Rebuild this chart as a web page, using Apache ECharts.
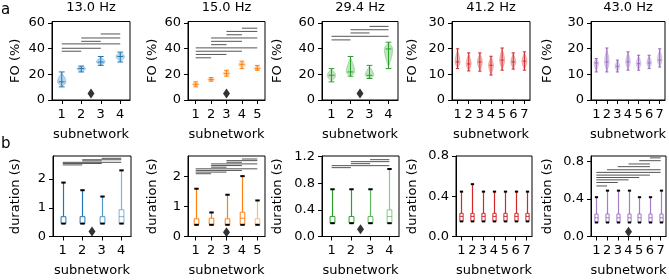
<!DOCTYPE html>
<html><head><meta charset="utf-8">
<script src="https://cdn.jsdelivr.net/npm/echarts@6/dist/echarts.min.js"></script>
<style>html,body{margin:0;padding:0;background:#fff}#c{width:669px;height:280px}</style>
</head><body><div id="c"></div>
<script>
// ---------------- data ----------------
const freqTitles = ['13.0 Hz', '15.0 Hz', '29.4 Hz', '41.2 Hz', '43.0 Hz'];
const subnetworkCounts = [4, 5, 4, 7, 7];

// row a: fractional occupancy (%) violins
const foTicks = [[0, 20, 40, 60], [0, 20, 40, 60], [0, 20, 40, 60], [0, 10, 20, 30], [0, 10, 20, 30]];
const foAxisMax = [61, 61, 61, 30.5, 30.5];
const foMin = [
  [10.2, 21.8, 26.9, 29.5],
  [10.2, 14.6, 18.5, 24.4, 23.1],
  [14.1, 18.5, 16.7, 24.4],
  [12.2, 11.3, 11.2, 9.7, 11.6, 12.0, 11.6],
  [10.9, 10.9, 10.9, 11.6, 11.6, 12.2, 12.8]
];
const foMedian = [
  [14.1, 24.4, 29.5, 33.8],
  [12.1, 15.9, 20.5, 27.7, 24.4],
  [19.2, 21.8, 19.2, 39.7],
  [14.8, 14.0, 14.8, 13.5, 15.5, 14.8, 15.1],
  [14.4, 14.8, 13.1, 14.8, 14.1, 14.4, 15.5]
];
const foMax = [
  [21.8, 26.4, 33.8, 37.2],
  [14.1, 17.4, 23.1, 30.2, 26.9],
  [24.4, 33.8, 26.9, 44.9],
  [19.9, 18.3, 18.3, 17.0, 20.2, 18.3, 18.7],
  [16.1, 20.2, 15.5, 18.7, 17.4, 17.4, 19.9]
];
const foSigPairs = [
  [[1, 2, 37.9], [1, 3, 40.2], [1, 4, 43.6], [2, 3, 45.6], [2, 4, 48.2], [3, 4, 51.3]],
  [[1, 2, 32.8], [1, 3, 35.4], [1, 4, 37.9], [1, 5, 40.5], [2, 3, 43.0], [2, 4, 45.6], [2, 5, 48.2], [3, 4, 50.7], [3, 5, 53.3], [4, 5, 55.8]],
  [[1, 2, 46.7], [1, 4, 49.5], [2, 3, 52.1], [2, 4, 54.6], [3, 4, 57.2]],
  [],
  []
];
const foMarker = [[2.5, 5], [3, 5], [2.5, 5], null, null];

// row b: state duration (s) box plots
const durTicks = [[0, 1, 2], [0, 1, 2], [0, 0.4, 0.8, 1.2], [0, 0.4, 0.8], [0, 0.4, 0.8]];
const durAxisMax = [2.8, 2.68, 1.21, 0.8, 0.86];
const durMin = [
  [0.45, 0.45, 0.45, 0.45],
  [0.39, 0.39, 0.39, 0.39, 0.39],
  [0.2, 0.2, 0.2, 0.2],
  [0.15, 0.15, 0.15, 0.15, 0.15, 0.15, 0.15],
  [0.15, 0.15, 0.15, 0.15, 0.15, 0.15, 0.15]
];
const durQ1 = [
  [0.45, 0.45, 0.45, 0.45],
  [0.39, 0.39, 0.39, 0.39, 0.39],
  [0.2, 0.2, 0.2, 0.2],
  [0.15, 0.15, 0.15, 0.15, 0.15, 0.15, 0.15],
  [0.15, 0.15, 0.15, 0.15, 0.15, 0.15, 0.15]
];
const durMedian = [
  [0.45, 0.45, 0.45, 0.69],
  [0.39, 0.39, 0.39, 0.61, 0.39],
  [0.2, 0.2, 0.2, 0.3],
  [0.2, 0.2, 0.2, 0.2, 0.2, 0.2, 0.2],
  [0.2, 0.2, 0.2, 0.2, 0.2, 0.2, 0.2]
];
const durQ3 = [
  [0.69, 0.69, 0.69, 0.93],
  [0.59, 0.61, 0.59, 0.81, 0.59],
  [0.3, 0.3, 0.3, 0.4],
  [0.23, 0.23, 0.23, 0.23, 0.23, 0.23, 0.23],
  [0.24, 0.24, 0.24, 0.24, 0.24, 0.24, 0.24]
];
const durMax = [
  [1.875, 1.61, 1.39, 2.3],
  [1.59, 0.8, 1.39, 2.01, 1.2],
  [0.71, 0.71, 0.71, 1.015],
  [0.446, 0.52, 0.446, 0.446, 0.446, 0.446, 0.446],
  [0.42, 0.49, 0.49, 0.49, 0.42, 0.42, 0.49]
];
const durSigPairs = [
  [[1, 2, 2.49], [1, 3, 2.54], [1, 4, 2.58], [2, 3, 2.63], [2, 4, 2.67], [3, 4, 2.72]],
  [[1, 2, 2.09], [1, 3, 2.144], [1, 4, 2.199], [1, 5, 2.253], [2, 3, 2.308], [2, 4, 2.362], [2, 5, 2.417], [3, 4, 2.471], [3, 5, 2.526], [4, 5, 2.58]],
  [[1, 2, 1.035], [1, 4, 1.065], [2, 3, 1.095], [2, 4, 1.125], [3, 4, 1.155]],
  [],
  [[1, 2, 0.54], [1, 3, 0.577], [1, 4, 0.605], [1, 5, 0.63], [1, 6, 0.656], [1, 7, 0.685], [2, 7, 0.713], [3, 6, 0.746], [4, 6, 0.775], [5, 7, 0.81], [6, 7, 0.84]]
];
const durMarker = [[2.5, 0.17], [3, 0.14], [2.5, 0.11], null, [4, 0.05]];

// ---------------- style / layout ----------------
const FONT = 'DejaVu Sans';
const colors = ['#1f77b4', '#ff7f0e', '#2ca02c', '#d62728', '#9467bd'];
const boxOpacity = [[1, 1, 0.75, 0.55], [1, 1, 1, 1, 0.55], [1, 1, 0.75, 0.55], [1, 1, 1, 1, 1, 1, 1], [0.85, 0.85, 0.85, 0.85, 0.85, 0.85, 0.85]];
const topLefts = [52, 188, 322, 452, 591], topWidths = [78, 77, 76, 78, 74];
const botLefts = [53, 188, 322, 456, 591], botWidths = [78, 77, 77, 76, 75];
const topTop = 21.5, topH = 78.5, botTop = 156, botH = 80.5;
const nameCenters = [15, 152, 277, 412, 547];

function hexA(hex, a) {
  const r = parseInt(hex.slice(1, 3), 16), g = parseInt(hex.slice(3, 5), 16), b = parseInt(hex.slice(5, 7), 16);
  return 'rgba(' + r + ',' + g + ',' + b + ',' + a + ')';
}

const grid = [], xAxis = [], yAxis = [], series = [], graphic = [];

function makeAxes(g, n, left, width, top, height, ticks, ymax, yname, fmt, center) {
  grid[g] = {left: left, top: top, width: width, height: height, show: true, borderColor: '#000', borderWidth: 1, backgroundColor: 'transparent'};
  const xt = [];
  for (let i = 1; i <= n; i++) xt.push(i);
  const txt = {fontSize: 13, color: '#000', fontFamily: FONT};
  xAxis[g] = {
    gridIndex: g, type: 'value', min: 0.5, max: n + 0.5,
    axisLine: {show: true, onZero: false, lineStyle: {color: '#000', width: 1}},
    axisTick: {show: true, length: 4, customValues: xt, lineStyle: {color: '#000', width: 1}},
    axisLabel: Object.assign({show: true, customValues: xt, margin: 8}, txt),
    splitLine: {show: false},
    name: 'subnetwork', nameLocation: 'middle', nameGap: 28, nameTextStyle: txt
  };
  yAxis[g] = {
    gridIndex: g, type: 'value', min: 0, max: ymax,
    axisLine: {show: true, onZero: false, lineStyle: {color: '#000', width: 1}},
    axisTick: {show: true, length: 4, customValues: ticks, lineStyle: {color: '#000', width: 1}},
    axisLabel: Object.assign({show: true, customValues: ticks, margin: 7, formatter: fmt}, txt),
    splitLine: {show: false},
    name: yname, nameLocation: 'middle', nameRotate: 90, nameGap: left - center - 7, nameTextStyle: txt
  };
}

function sigSeries(g, pairs) {
  series.push({
    type: 'custom', xAxisIndex: g, yAxisIndex: g, silent: true, clip: false,
    data: pairs,
    renderItem: function (params, api) {
      const a = api.coord([api.value(0), api.value(2)]);
      const b = api.coord([api.value(1), api.value(2)]);
      return {type: 'line', shape: {x1: a[0], y1: a[1], x2: b[0], y2: b[1]}, style: {stroke: '#555', lineWidth: 1}};
    }
  });
}

function markerSeries(g, m) {
  if (!m) return;
  series.push({type: 'scatter', xAxisIndex: g, yAxisIndex: g, silent: true, data: [m],
    symbol: 'diamond', symbolSize: [7, 10], itemStyle: {color: '#000'}});
}

for (let p = 0; p < 5; p++) {
  const n = subnetworkCounts[p];
  const color = colors[p];
  // ---- row a ----
  const ga = p;
  makeAxes(ga, n, topLefts[p], topWidths[p], topTop, topH, foTicks[p], foAxisMax[p], 'FO (%)', v => String(v), nameCenters[p]);
  const vData = foMin[p].map((v, i) => [i + 1, foMin[p][i], foMedian[p][i], foMax[p][i]]);
  series.push({
    type: 'custom', xAxisIndex: ga, yAxisIndex: ga, silent: true, clip: false, data: vData,
    renderItem: function (params, api) {
      const x = api.value(0), lo = api.value(1), md = api.value(2), hi = api.value(3);
      const ux = api.size([1, 0])[0];
      const W = 0.22 * ux, N = 30;
      const L = [], R = [];
      for (let k = 0; k <= N; k++) {
        const y = lo + (hi - lo) * k / N;
        let u = y < md ? (md - y) / (md - lo) : (hi > md ? (y - md) / (hi - md) : 0);
        const w = W * Math.pow(Math.max(0, 1 - u * u), 1.6);
        const c = api.coord([x, y]);
        L.push([c[0] - w, c[1]]); R.push([c[0] + w, c[1]]);
      }
      const poly = L.concat(R.reverse());
      const cLo = api.coord([x, lo]), cHi = api.coord([x, hi]), cMd = api.coord([x, md]);
      const cw = 0.15 * ux;
      const ls = {stroke: color, lineWidth: 1};
      return {type: 'group', children: [
        {type: 'polygon', shape: {points: poly, smooth: 0}, style: {fill: hexA(color, 0.3), stroke: hexA(color, 0.35), lineWidth: 0.8}},
        {type: 'line', shape: {x1: cLo[0], y1: cLo[1], x2: cHi[0], y2: cHi[1]}, style: ls},
        {type: 'line', shape: {x1: cLo[0] - cw, y1: cLo[1], x2: cLo[0] + cw, y2: cLo[1]}, style: ls},
        {type: 'line', shape: {x1: cHi[0] - cw, y1: cHi[1], x2: cHi[0] + cw, y2: cHi[1]}, style: ls},
        {type: 'line', shape: {x1: cMd[0] - cw, y1: cMd[1], x2: cMd[0] + cw, y2: cMd[1]}, style: ls}
      ]};
    }
  });
  sigSeries(ga, foSigPairs[p]);
  markerSeries(ga, foMarker[p]);

  // ---- row b ----
  const gb = p + 5;
  const fmtB = (p < 2) ? (v => String(v)) : (v => v.toFixed(1));
  makeAxes(gb, n, botLefts[p], botWidths[p], botTop, botH, durTicks[p], durAxisMax[p], 'duration (s)', fmtB, nameCenters[p]);
  const bData = durMin[p].map((v, i) => [i + 1, durMin[p][i], durQ1[p][i], durMedian[p][i], durQ3[p][i], durMax[p][i], boxOpacity[p][i]]);
  series.push({
    type: 'custom', xAxisIndex: gb, yAxisIndex: gb, silent: true, clip: false, data: bData,
    renderItem: function (params, api) {
      const x = api.value(0);
      const cMin = api.coord([x, api.value(1)]), cQ1 = api.coord([x, api.value(2)]);
      const cMd = api.coord([x, api.value(3)]), cQ3 = api.coord([x, api.value(4)]);
      const cMax = api.coord([x, api.value(5)]);
      const op = api.value(6);
      const col = hexA(color, op);
      const ux = api.size([1, 0])[0];
      const hw = Math.min(2.4, 0.15 * ux), capw = Math.min(2.2, 0.15 * ux);
      const cx = Math.round(cMin[0]) + 0.5;
      return {type: 'group', children: [
        {type: 'line', shape: {x1: cx, y1: cQ3[1], x2: cx, y2: cMax[1]}, style: {stroke: col, lineWidth: 1.2}},
        {type: 'rect', shape: {x: cx - hw, y: cQ3[1], width: 2 * hw, height: cQ1[1] - cQ3[1]}, style: {fill: '#fff', stroke: col, lineWidth: 1}},
        {type: 'line', shape: {x1: cx - hw, y1: cMd[1], x2: cx + hw, y2: cMd[1]}, style: {stroke: col, lineWidth: 1}},
        {type: 'line', shape: {x1: cx - capw, y1: cMax[1], x2: cx + capw, y2: cMax[1]}, style: {stroke: '#000', lineWidth: 2}},
        {type: 'line', shape: {x1: cx - capw, y1: cMin[1], x2: cx + capw, y2: cMin[1]}, style: {stroke: '#000', lineWidth: 2}}
      ]};
    }
  });
  sigSeries(gb, durSigPairs[p]);
  markerSeries(gb, durMarker[p]);

  graphic.push({type: 'text', x: topLefts[p] + topWidths[p] / 2, y: 8, silent: true,
    style: {text: freqTitles[p], fontSize: 13, fontFamily: FONT, fill: '#000', align: 'center', verticalAlign: 'middle'}});
}
graphic.push({type: 'text', x: 1, y: 10, silent: true, style: {text: 'a', fontSize: 15, fontFamily: FONT, fill: '#000', align: 'left', verticalAlign: 'middle'}});
graphic.push({type: 'text', x: 1, y: 144, silent: true, style: {text: 'b', fontSize: 15, fontFamily: FONT, fill: '#000', align: 'left', verticalAlign: 'middle'}});

const chart = echarts.init(document.getElementById('c'), null, {renderer: 'canvas', width: 669, height: 280});
chart.setOption({animation: false, backgroundColor: '#fff', grid, xAxis, yAxis, series, graphic});
</script></body></html>
